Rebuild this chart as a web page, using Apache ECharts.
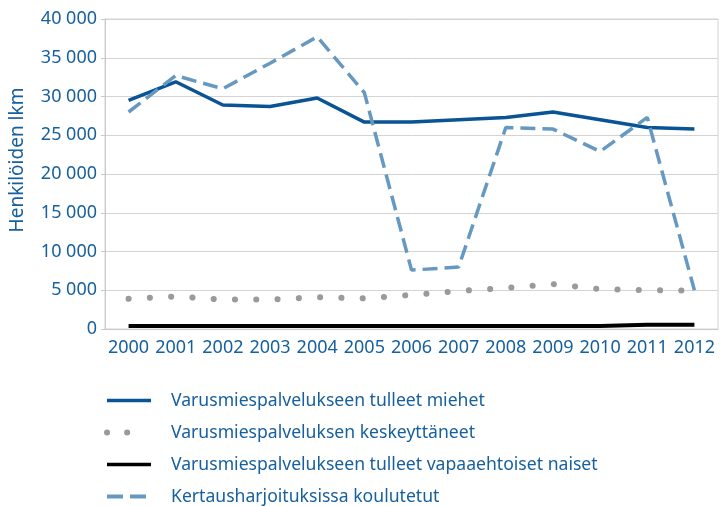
<!DOCTYPE html>
<html>
<head>
    <meta charset="utf-8">
    <title>Varusmiespalvelus</title>
    <script src="https://cdn.jsdelivr.net/npm/echarts@6/dist/echarts.min.js"></script>
    <style>
        html, body { margin: 0; padding: 0; background: #fff; }
        #main { width: 721px; height: 506px; }
    </style>
</head>
<body>
<div id="main"></div>
<script>
var years = ['2000','2001','2002','2003','2004','2005','2006','2007','2008','2009','2010','2011','2012'];
var miehet = [29500, 31900, 28900, 28700, 29800, 26700, 26700, 27000, 27300, 28000, 27000, 26000, 25800];
var keskeyttaneet = [3900, 4200, 3800, 3800, 4100, 3950, 4400, 4900, 5300, 5800, 5150, 5000, 4950];
var naiset = [400, 400, 400, 400, 400, 400, 400, 400, 400, 400, 400, 550, 560];
var kertaus = [28000, 32700, 31000, 34300, 37700, 30500, 7600, 8000, 26000, 25800, 22900, 27300, 5000];
var names = [
    'Varusmiespalvelukseen tulleet miehet',
    'Varusmiespalveluksen keskeyttäneet',
    'Varusmiespalvelukseen tulleet vapaaehtoiset naiset',
    'Kertausharjoituksissa koulutetut'
];

var blue = '#17609e';
var font = 'Noto Sans';

function fmt(v) {
    return String(v).replace(/\B(?=(\d{3})+(?!\d))/g, ' ');
}

var chart = echarts.init(document.getElementById('main'));
chart.setOption({
    animation: false,
    grid: { left: 104, right: 3, top: 19, bottom: 177, show: true, borderColor: '#d4d4d4', borderWidth: 1 },
    legend: {
        orient: 'vertical',
        left: 104,
        top: 391,
        padding: 0,
        itemWidth: 44,
        itemHeight: 14,
        itemGap: 13,
        data: [
            { name: names[0], lineStyle: { width: 3.5 } },
            { name: names[1], lineStyle: { width: 6, type: [0.1, 20, 0.1, 40], cap: 'round' } },
            { name: names[2], lineStyle: { width: 3.5 } },
            { name: names[3], lineStyle: { width: 4, type: [16, 7] } }
        ],
        itemStyle: { opacity: 0 },
        textStyle: { color: blue, fontFamily: font, fontSize: 17.6, lineHeight: 19, padding: [0, 0, 0, 15] }
    },
    xAxis: {
        type: 'category',
        data: years,
        boundaryGap: true,
        axisLine: { lineStyle: { color: '#c8c8c8', width: 1 } },
        axisTick: { length: 5, lineStyle: { color: '#c8c8c8' } },
        axisLabel: { interval: 0, color: blue, fontFamily: font, fontSize: 18, margin: 10 }
    },
    yAxis: {
        type: 'value',
        min: 0,
        max: 40000,
        interval: 5000,
        name: 'Henkilöiden lkm',
        nameLocation: 'middle',
        nameGap: 78,
        nameTextStyle: { color: blue, fontFamily: font, fontSize: 19, padding: [0, 0, 0, 28] },
        axisLine: { show: true, lineStyle: { color: '#c8c8c8' } },
        axisTick: { show: true, length: 4, lineStyle: { color: '#c8c8c8' } },
        splitLine: { lineStyle: { color: '#d4d4d4' } },
        axisLabel: { color: blue, fontFamily: font, fontSize: 18, margin: 8, formatter: fmt }
    },
    series: [
        {
            name: names[0], type: 'line', data: miehet, symbol: 'none',
            lineStyle: { color: '#0a5394', width: 3.5 }, itemStyle: { color: '#0a5394' }, z: 4
        },
        {
            name: names[1], type: 'line', data: keskeyttaneet, symbol: 'none',
            lineStyle: { color: '#9a9a9a', width: 6, type: [0.1, 21.2], cap: 'round' }, itemStyle: { color: '#9a9a9a' }, z: 2
        },
        {
            name: names[2], type: 'line', data: naiset, symbol: 'none',
            lineStyle: { color: '#000000', width: 4 }, itemStyle: { color: '#000000' }, z: 3
        },
        {
            name: names[3], type: 'line', data: kertaus, symbol: 'none',
            lineStyle: { color: '#6699c2', width: 3.5, type: [15, 7] }, itemStyle: { color: '#6699c2' }, z: 5
        }
    ]
});
</script>
</body>
</html>
